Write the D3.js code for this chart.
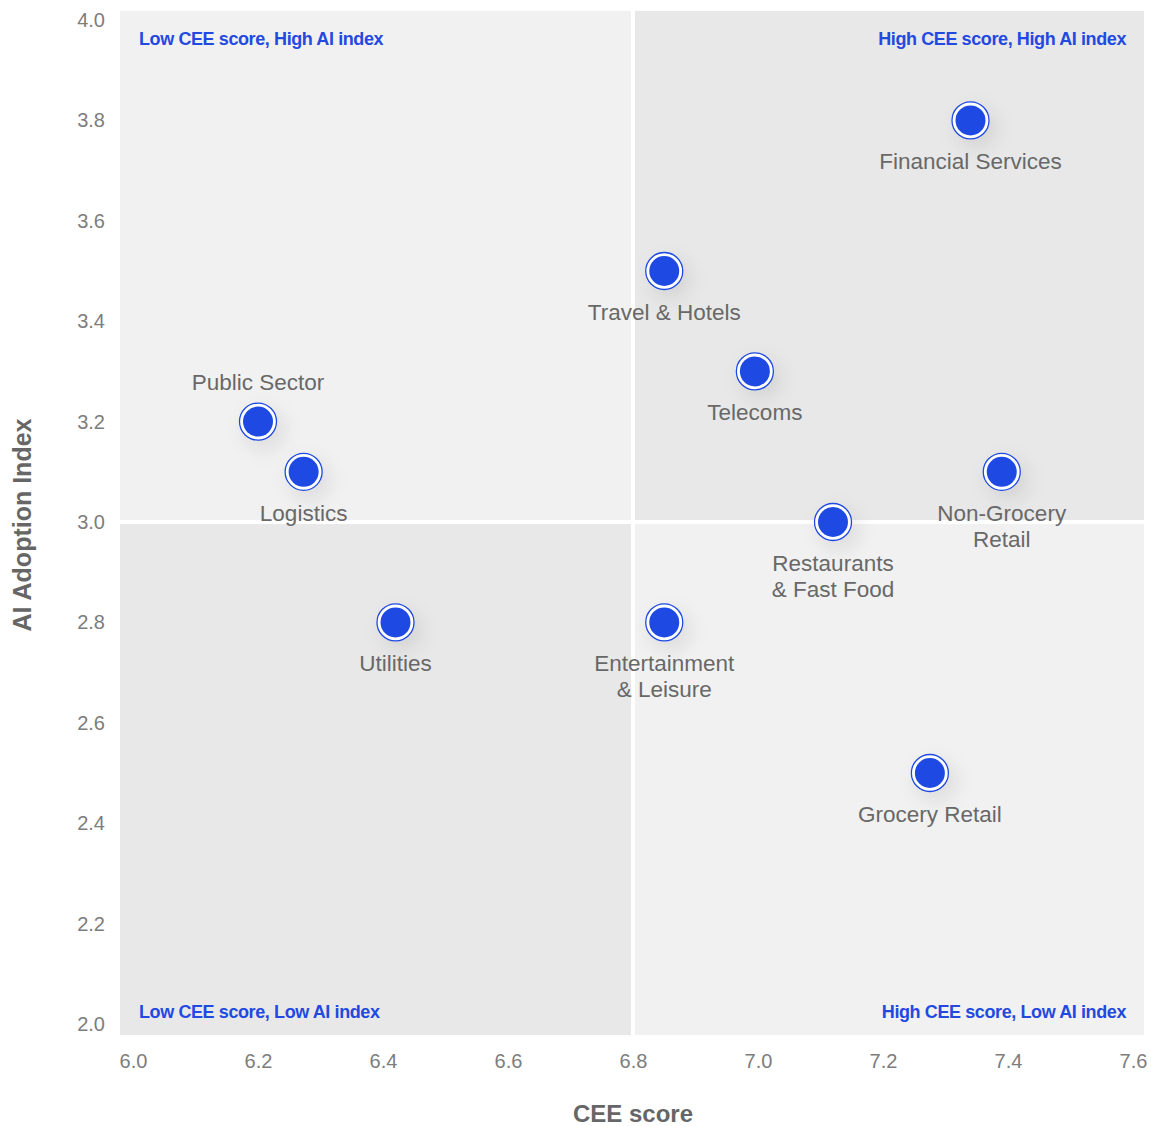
<!DOCTYPE html>
<html>
<head>
<meta charset="utf-8">
<script src="https://cdn.jsdelivr.net/npm/d3@7"></script>
<style>
  html, body { margin: 0; padding: 0; background: #ffffff; }
  svg { display: block; }
</style>
</head>
<body>
<svg id="chart" width="1151" height="1126"></svg>
<script>
// ---- data ----
const sectors = ["Financial Services", "Travel & Hotels", "Telecoms", "Public Sector", "Logistics",
                 "Non-Grocery Retail", "Restaurants & Fast Food", "Utilities", "Entertainment & Leisure", "Grocery Retail"];
const labelLines = [["Financial Services"], ["Travel & Hotels"], ["Telecoms"], ["Public Sector"], ["Logistics"],
                    ["Non-Grocery", "Retail"], ["Restaurants", "& Fast Food"], ["Utilities"], ["Entertainment", "& Leisure"], ["Grocery Retail"]];
const ceeScore = [7.34, 6.85, 6.995, 6.2, 6.273, 7.39, 7.12, 6.42, 6.85, 7.275];
const aiIndex  = [3.8, 3.5, 3.3, 3.2, 3.1, 3.1, 3.0, 2.8, 2.8, 2.5];
const labelAbove = ["Public Sector"];
const xTicks = [6.0, 6.2, 6.4, 6.6, 6.8, 7.0, 7.2, 7.4, 7.6];
const yTicks = [2.0, 2.2, 2.4, 2.6, 2.8, 3.0, 3.2, 3.4, 3.6, 3.8, 4.0];
const xSplit = 6.8, ySplit = 3.0;
const quadrantLabels = ["Low CEE score, High AI index", "High CEE score, High AI index",
                        "Low CEE score, Low AI index", "High CEE score, Low AI index"];
const xTitle = "CEE score", yTitle = "AI Adoption Index";

// ---- layout ----
const svg = d3.select("#chart");
const plot = {left: 120, right: 1144, top: 11, bottom: 1035};
const x = d3.scaleLinear().domain([6.0, 7.6]).range([133, 1133]);
const y = d3.scaleLinear().domain([2.0, 4.0]).range([1024, 20]);
const BLUE = "#1e49e3", LABEL_BLUE = "#2349e0";
const LIGHT = "#f1f1f1", DARK = "#e8e8e8";
const gap = 2;
const sx = x(xSplit), sy = y(ySplit);

// shadow filter
const defs = svg.append("defs");
const f = defs.append("filter").attr("id", "soft").attr("x", "-100%").attr("y", "-100%").attr("width", "300%").attr("height", "300%");
f.append("feGaussianBlur").attr("stdDeviation", 9);

// quadrants
const quads = [
  {x0: plot.left, x1: sx - gap, y0: plot.top, y1: sy - gap, fill: LIGHT},
  {x0: sx + gap, x1: plot.right, y0: plot.top, y1: sy - gap, fill: DARK},
  {x0: plot.left, x1: sx - gap, y0: sy + gap, y1: plot.bottom, fill: DARK},
  {x0: sx + gap, x1: plot.right, y0: sy + gap, y1: plot.bottom, fill: LIGHT}
];
svg.append("g").selectAll("rect").data(quads).join("rect")
  .attr("x", d => d.x0).attr("y", d => d.y0)
  .attr("width", d => d.x1 - d.x0).attr("height", d => d.y1 - d.y0)
  .attr("fill", d => d.fill);

// quadrant labels
const qPos = [
  {x: plot.left + 19, y: 45, anchor: "start"},
  {x: plot.right - 18, y: 45, anchor: "end"},
  {x: plot.left + 19, y: 1018, anchor: "start"},
  {x: plot.right - 18, y: 1018, anchor: "end"}
];
svg.append("g").selectAll("text").data(quadrantLabels).join("text")
  .attr("x", (d, i) => qPos[i].x).attr("y", (d, i) => qPos[i].y)
  .attr("text-anchor", (d, i) => qPos[i].anchor)
  .attr("font-family", "'Liberation Sans', Arial, sans-serif")
  .attr("font-weight", "bold").attr("font-size", 18).attr("letter-spacing", -0.4)
  .attr("fill", LABEL_BLUE)
  .text(d => d);

// axes
const xAxis = svg.append("g").attr("transform", `translate(0,${plot.bottom})`)
  .call(d3.axisBottom(x).tickValues(xTicks).tickFormat(d3.format(".1f")).tickSize(0).tickPadding(19));
const yAxis = svg.append("g").attr("transform", `translate(105,0)`)
  .call(d3.axisLeft(y).tickValues(yTicks).tickFormat(d3.format(".1f")).tickSize(0).tickPadding(0));
[xAxis, yAxis].forEach(a => {
  a.select(".domain").remove();
  a.selectAll("text").attr("font-family", "'Liberation Sans', Arial, sans-serif")
    .attr("font-size", 20).attr("fill", "#7d7d7d");
});

// axis titles
svg.append("text").attr("x", x(xSplit)).attr("y", 1122)
  .attr("text-anchor", "middle")
  .attr("font-family", "'Liberation Sans', Arial, sans-serif").attr("font-weight", "bold")
  .attr("font-size", 24).attr("fill", "#666666").text(xTitle);
svg.append("text").attr("transform", `translate(31,${y(ySplit) + 3}) rotate(-90)`)
  .attr("text-anchor", "middle")
  .attr("font-family", "'Liberation Sans', Arial, sans-serif").attr("font-weight", "bold")
  .attr("font-size", 25).attr("fill", "#666666").text(yTitle);

// points
const pts = sectors.map((s, i) => ({name: s, lines: labelLines[i], cx: x(ceeScore[i]), cy: y(aiIndex[i])}));

svg.append("g").selectAll("circle").data(pts).join("circle")
  .attr("cx", d => d.cx + 6).attr("cy", d => d.cy + 8).attr("r", 21)
  .attr("fill", "#000").attr("fill-opacity", 0.08).attr("filter", "url(#soft)");

const pg = svg.append("g").selectAll("g").data(pts).join("g")
  .attr("transform", d => `translate(${d.cx},${d.cy})`);
pg.append("circle").attr("r", 18.5).attr("fill", "#ffffff").attr("stroke", BLUE).attr("stroke-width", 1.3);
pg.append("circle").attr("r", 15).attr("fill", BLUE);

// labels
const lg = svg.append("g").selectAll("text").data(pts).join("text")
  .attr("text-anchor", "middle")
  .attr("font-family", "'Liberation Sans', Arial, sans-serif")
  .attr("font-size", 22.5).attr("fill", "#686868")
  .attr("x", d => d.cx)
  .attr("y", d => labelAbove.includes(d.name) ? d.cy - 32 : d.cy + 49);
lg.selectAll("tspan").data(d => d.lines.map(l => ({l, x: d.cx}))).join("tspan")
  .attr("x", t => t.x).attr("dy", (t, i) => i === 0 ? 0 : 26).text(t => t.l);
</script>
</body>
</html>
